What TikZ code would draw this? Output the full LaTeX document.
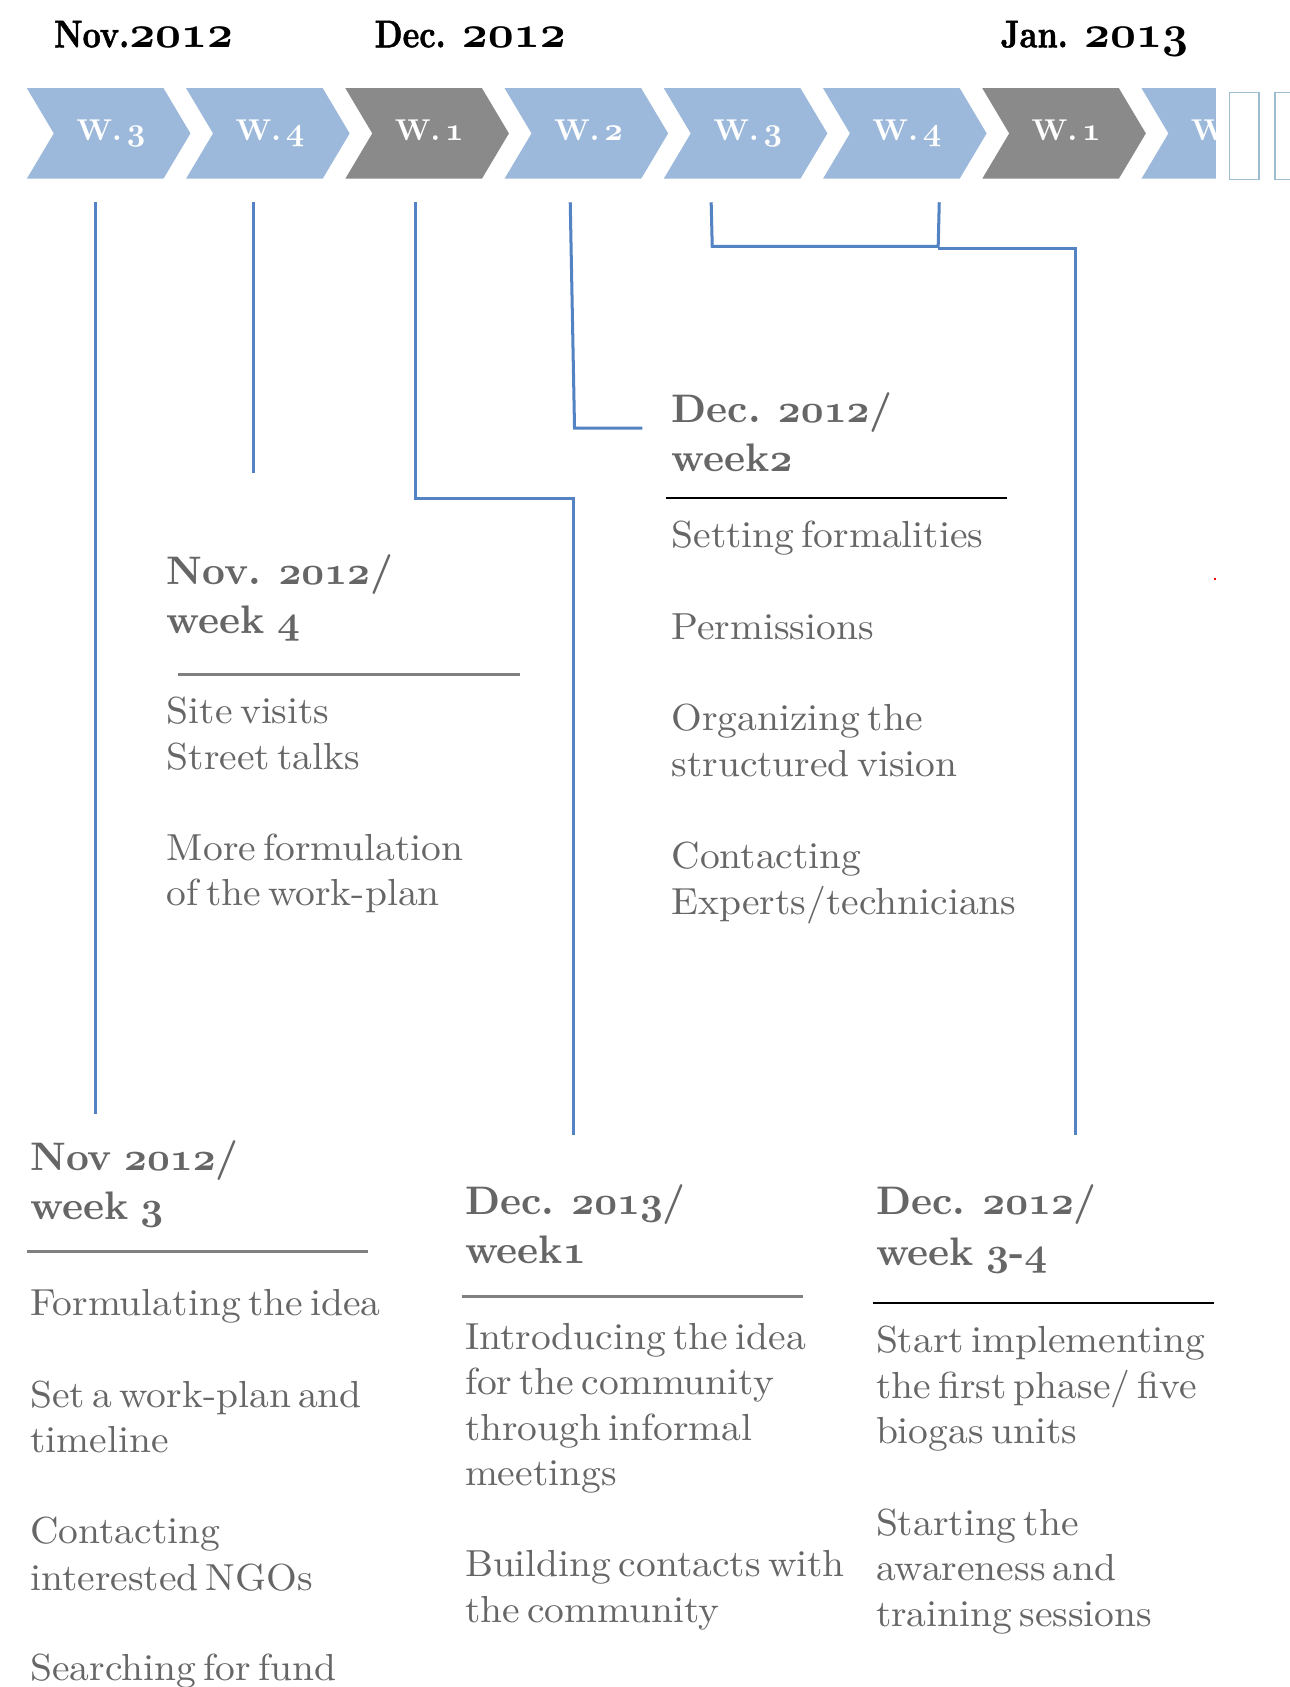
\documentclass[tikz,border=0pt]{standalone}
\usepackage{fontspec}
\usepackage{xcolor}
\newfontfamily\bodyfont{lmroman10-regular.otf}[FakeStretch=1.05,WordSpace=0.55]
\newfontfamily\headfont{lmroman10-bold.otf}[WordSpace=0.8]
\newfontfamily\monthfont{lmroman10-bold.otf}[FakeStretch=0.82,FakeBold=1.2]
\font\osbMonth=cmmib10 at 42pt
\font\osbHead=cmmib10 at 37pt
\font\osbWk=cmmib10 at 30pt
\newcommand\osm[1]{{\osbMonth #1}}
\newcommand\osh[1]{{\osbHead #1}}
\newcommand\osw[1]{{\osbWk #1}}
\definecolor{chevblue}{HTML}{9CB9DB}
\definecolor{chevgray}{HTML}{8A8A8A}
\definecolor{linkblue}{HTML}{5383C3}
\definecolor{txtgray}{HTML}{666666}
\definecolor{rulegray}{HTML}{808080}
\definecolor{boxline}{HTML}{9DBCCF}
\tikzset{
  month/.style={anchor=base west, inner sep=0pt, font=\fontsize{36}{40}\selectfont\monthfont, text=black},
  wklabel/.style={anchor=base, inner sep=0pt, font=\fontsize{28}{32}\selectfont\headfont, text=white},
  head/.style={anchor=base west, inner sep=0pt, font=\fontsize{37}{44}\selectfont\headfont, text=txtgray},
  item/.style={anchor=base west, inner sep=0pt, yshift=-3pt, font=\fontsize{35}{42}\selectfont\bodyfont, text=txtgray},
  link/.style={draw=linkblue, line width=2.8pt, line join=miter},
  grayrule/.style={draw=rulegray, line width=2.5pt},
  blackrule/.style={draw=black, line width=2.5pt},
  emptybox/.style={draw=boxline, line width=1.3pt}
}
\begin{document}
\begin{tikzpicture}[x=1pt,y=-1pt]
\useasboundingbox[fill=white] (0,0) rectangle (1199,1568);

% month labels
\node[month] (mnov) at (50,44) {Nov.\osm{2012}};
\node[month] (mdec) at (348,44) {Dec. \osm{2012}};
\node[month] (mjan) at (930,44) {Jan. \osm{2013}};

% chevrons
\begin{scope}
\clip (0,0) rectangle (1130,200);
\foreach \t/\c/\w [count=\i] in {25/chevblue/3,173/chevblue/4,321/chevgray/1,469/chevblue/2,617/chevblue/3,765/chevblue/4,913/chevgray/1,1061/chevblue/1}{
  \fill[\c] (\t,82) -- ++(127,0) -- ++(25,42) -- ++(-25,42) -- ++(-127,0) -- ++(25,-42) -- cycle;
  \node[wklabel] (wk\i) at (\t+78,131) {W.\,\osw{\w}};
}
\end{scope}

% empty boxes at right
\draw[emptybox] (1143,86) rectangle (1170,167);
\draw[emptybox] (1185,86) rectangle (1212,167);

% small red mark
\fill[red] (1128,537) rectangle (1130.5,539.5);

% connector coordinates
\coordinate (a0) at (89,188);   \coordinate (a1) at (89,1035);
\coordinate (b0) at (236,188);  \coordinate (b1) at (236,440);
\coordinate (c0) at (386,188);  \coordinate (c1) at (386,463);
\coordinate (c2) at (533,463);  \coordinate (c3) at (533,1055);
\coordinate (d0) at (530,188);  \coordinate (d1) at (534,398);
\coordinate (d2) at (597,398);
\coordinate (e0) at (661,188);  \coordinate (e1) at (662,229);
\coordinate (e2) at (872,229);  \coordinate (e3) at (873,188);
\coordinate (f0) at (872,231);  \coordinate (f1) at (1000,231);
\coordinate (f2) at (1000,1055);

\draw[link] (a0) -- (a1);
\draw[link] (b0) -- (b1);
\draw[link] (c0) -- (c1) -- (c2) -- (c3);
\draw[link] (d0) -- (d1) -- (d2);
\draw[link] (e0) -- (e1) -- (e2) -- (e3);
\draw[link] (f0) -- (f1) -- (f2);

% Block C: Dec 2012 / week2
\node[head] (ch1) at (624,393) {Dec. \osh{2012}/};
\node[head] (ch2) at (624,438) {week\osh{2}};
\draw[blackrule] (619,463) -- (936,463);
\node[item] (ci1) at (624,506) {Setting formalities};
\node[item] (ci2) at (624,591) {Permissions};
\node[item] (ci3) at (624,676) {Organizing the};
\node[item] (ci4) at (624,719) {structured vision};
\node[item] (ci5) at (624,804) {Contacting};
\node[item] (ci6) at (624,847) {Experts/technicians};

% Block B: Nov 2012 / week 4
\node[head] (bh1) at (155,543) {Nov. \osh{2012}/};
\node[head] (bh2) at (155,589) {week \osh{4}};
\draw[grayrule] (165,627) -- (483,627);
\node[item] (bi1) at (155,669) {Site visits};
\node[item] (bi2) at (155,712) {Street talks};
\node[item] (bi3) at (155,797) {More formulation};
\node[item] (bi4) at (155,839) {of the work-plan};

% Block A: Nov 2012 / week 3
\node[head] (ah1) at (28,1088) {Nov \osh{2012}/};
\node[head] (ah2) at (28,1133) {week \osh{3}};
\draw[grayrule] (25,1163) -- (342,1163);
\node[item] (ai1) at (28,1220) {Formulating the idea};
\node[item] (ai2) at (28,1305) {Set a work-plan and};
\node[item] (ai3) at (28,1347) {timeline};
\node[item] (ai4) at (28,1432) {Contacting};
\node[item] (ai5) at (28,1475) {interested NGOs};
\node[item] (ai6) at (28,1559) {Searching for fund};

% Block D: Dec 2013 / week1
\node[head] (dh1) at (432,1129) {Dec. \osh{2013}/};
\node[head] (dh2) at (432,1174) {week\osh{1}};
\draw[grayrule] (429,1205) -- (746,1205);
\node[item] (di1) at (432,1251) {Introducing the idea};
\node[item] (di2) at (432,1293) {for the community};
\node[item] (di3) at (432,1336) {through informal};
\node[item] (di4) at (432,1378) {meetings};
\node[item] (di5) at (432,1462) {Building contacts with};
\node[item] (di6) at (432,1505) {the community};

% Block E: Dec 2012 / week 3-4
\node[head] (eh1) at (814,1129) {Dec. \osh{2012}/};
\node[head] (eh2) at (814,1176) {week \osh{3}-\osh{4}};
\draw[blackrule] (811,1211) -- (1128,1211);
\node[item] (ei1) at (814,1254) {Start implementing};
\node[item] (ei2) at (814,1297) {the first phase/ five};
\node[item] (ei3) at (814,1339) {biogas units};
\node[item] (ei4) at (814,1424) {Starting the};
\node[item] (ei5) at (814,1466) {awareness and};
\node[item] (ei6) at (814,1509) {training sessions};
\end{tikzpicture}
\end{document}
